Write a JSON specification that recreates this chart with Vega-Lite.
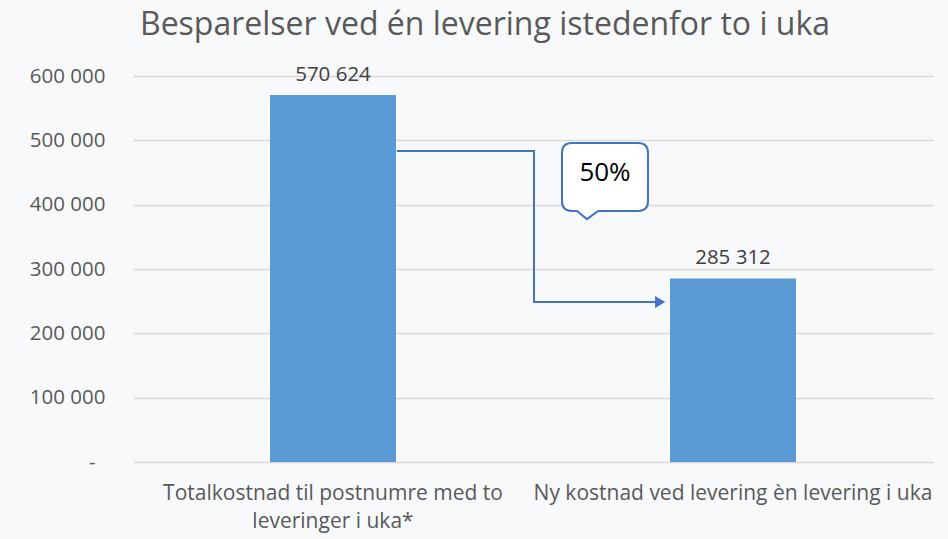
{
  "$schema": "https://vega.github.io/schema/vega-lite/v6.json",
  "autosize": {"type": "none"},
  "width": 800,
  "height": 386,
  "padding": {"left": 133, "top": 76, "right": 15, "bottom": 77},
  "background": "#f8f9fb",
  "title": {
    "text": "Besparelser ved én levering istedenfor to i uka",
    "font": "Open Sans",
    "fontSize": 32,
    "fontWeight": "normal",
    "color": "#595959",
    "anchor": "middle",
    "frame": "group",
    "dx": -48,
    "offset": 23
  },
  "config": {
    "view": {"stroke": null},
    "font": "Open Sans"
  },
  "datasets": {
    "bars": [
      {"kategori": "Totalkostnad til postnumre med to leveringer i uka*", "kostnad": 570624, "etikett": "570 624"},
      {"kategori": "Ny kostnad ved levering èn levering i uka", "kostnad": 285312, "etikett": "285 312"}
    ],
    "pil": [
      {"steg": 1, "px": 0.66, "verdi": 483400},
      {"steg": 2, "px": 1.0025, "verdi": 483400},
      {"steg": 3, "px": 1.0025, "verdi": 248700},
      {"steg": 4, "px": 1.31, "verdi": 248700}
    ],
    "pilspiss": [{"px": 1.318, "verdi": 248700}],
    "boble": [{"px": 1.18, "verdi": 443000, "tekst": "50%", "tekstverdi": 449000}]
  },
  "layer": [
    {
      "data": {"name": "bars"},
      "layer": [
        {
          "mark": {"type": "bar", "color": "#5b9bd5"},
          "encoding": {
            "x": {
              "field": "kategori", "type": "nominal", "sort": null,
              "scale": {"paddingInner": 0.685, "paddingOuter": 0.3425},
              "axis": {
                "title": null, "labelAngle": 0, "ticks": false, "domain": false,
                "labelFontSize": 21, "labelColor": "#595959", "labelPadding": 20,
                "labelLimit": 0, "labelLineHeight": 28, "labelBaseline": "top",
                "labelExpr": "datum.label == 'Totalkostnad til postnumre med to leveringer i uka*' ? ['Totalkostnad til postnumre med to', 'leveringer i uka*'] : datum.label"
              }
            },
            "y": {
              "field": "kostnad", "type": "quantitative",
              "scale": {"domain": [0, 600000], "nice": false},
              "axis": {
                "title": null, "values": [0, 100000, 200000, 300000, 400000, 500000, 600000],
                "ticks": false, "domain": false, "grid": true, "gridColor": "#d9d9d9", "gridWidth": 1.3,
                "labelFontSize": 20.5, "labelColor": "#595959",
                "labelPadding": {"condition": {"test": "datum.value == 0", "value": 38}, "value": 28},
                "labelExpr": "datum.value == 0 ? '-' : replace(format(datum.value, ','), regexp(',', 'g'), ' ')"
              }
            }
          }
        },
        {
          "mark": {"type": "text", "baseline": "bottom", "dy": -10, "fontSize": 20.5, "color": "#404040"},
          "encoding": {
            "x": {"field": "kategori", "type": "nominal", "sort": null},
            "y": {"field": "kostnad", "type": "quantitative"},
            "text": {"field": "etikett"}
          }
        }
      ]
    },
    {
      "data": {"name": "pil"},
      "mark": {"type": "line", "color": "#4472c4", "strokeWidth": 2, "interpolate": "linear"},
      "encoding": {
        "x": {"field": "px", "type": "quantitative", "scale": {"domain": [0, 2], "nice": false, "zero": false}, "axis": null},
        "y": {"field": "verdi", "type": "quantitative"},
        "order": {"field": "steg"}
      }
    },
    {
      "data": {"name": "pilspiss"},
      "mark": {"type": "point", "shape": "triangle-right", "filled": true, "color": "#4472c4", "size": 140, "opacity": 1},
      "encoding": {
        "x": {"field": "px", "type": "quantitative", "scale": {"domain": [0, 2], "nice": false, "zero": false}, "axis": null},
        "y": {"field": "verdi", "type": "quantitative"}
      }
    },
    {
      "data": {"name": "boble"},
      "layer": [
        {
          "mark": {
            "type": "point",
            "shape": "M -0.77 -0.79 L 0.77 -0.79 Q 1 -0.79 1 -0.56 L 1 0.56 Q 1 0.79 0.77 0.79 L -0.16 0.79 L -0.42 0.98 L -0.65 0.79 L -0.77 0.79 Q -1 0.79 -1 0.56 L -1 -0.56 Q -1 -0.79 -0.77 -0.79 Z",
            "size": 7396, "fill": "#ffffff", "fillOpacity": 1, "stroke": "#4472c4", "strokeWidth": 2, "opacity": 1
          },
          "encoding": {
            "x": {"field": "px", "type": "quantitative", "scale": {"domain": [0, 2], "nice": false, "zero": false}, "axis": null},
            "y": {"field": "verdi", "type": "quantitative"}
          }
        },
        {
          "mark": {"type": "text", "fontSize": 26, "color": "#000000", "baseline": "middle"},
          "encoding": {
            "x": {"field": "px", "type": "quantitative", "scale": {"domain": [0, 2], "nice": false, "zero": false}, "axis": null},
            "y": {"field": "tekstverdi", "type": "quantitative"},
            "text": {"field": "tekst"}
          }
        }
      ]
    }
  ],
  "resolve": {"scale": {"x": "independent"}}
}
